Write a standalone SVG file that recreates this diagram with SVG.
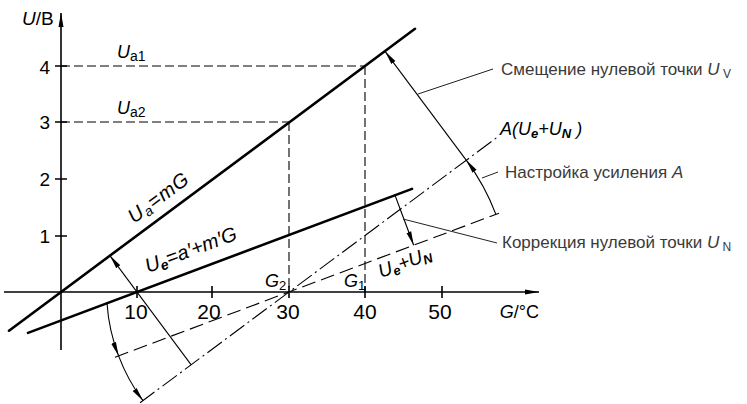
<svg xmlns="http://www.w3.org/2000/svg" width="747" height="404" viewBox="0 0 747 404">
<style>
.ax{stroke:#000;stroke-width:1.6;fill:none}
.thick{stroke:#000;stroke-width:2.6;fill:none;stroke-linecap:round}
.thin{stroke:#000;stroke-width:1.1;fill:none}
.lead{stroke:#222;stroke-width:1;fill:none}
.dash{stroke:#000;stroke-width:1.1;fill:none;stroke-dasharray:9 4}
.dash2{stroke:#000;stroke-width:1.1;fill:none;stroke-dasharray:14 6}
.dd{stroke:#000;stroke-width:1.1;fill:none;stroke-dasharray:18 4 2 4}
.t{font-family:"Liberation Sans",Arial,sans-serif;fill:#000}
.yn{font-size:19px;text-anchor:end}
.xn{font-size:21px;text-anchor:middle}
.v{font-style:italic}
.lbl{font-family:"Liberation Sans",Arial,sans-serif;font-size:17px;fill:#3a3a3a}
</style>
<defs>
<marker id="ah" viewBox="0 0 14 7" refX="14" refY="3.5" markerWidth="14" markerHeight="7" markerUnits="userSpaceOnUse" orient="auto"><path d="M0,1 L14,3.5 L0,6 Z" fill="#000"/></marker>
</defs>
<g id="axes">
<line class="ax" x1="61" y1="350" x2="61" y2="13" marker-end="url(#ah)"/>
<line class="ax" x1="4" y1="292" x2="539" y2="292" marker-end="url(#ah)"/>
<path class="ax" d="M55,66H67M55,122H67M55,179H67M55,236H67M137,286V298M212,286V298M289,286V298M365,286V298M442,286V298"/>
<text class="t yn" x="50" y="74">4</text>
<text class="t yn" x="50" y="129">3</text>
<text class="t yn" x="50" y="186">2</text>
<text class="t yn" x="50" y="243">1</text>
<text class="t xn" x="136" y="319">10</text>
<text class="t xn" x="209" y="319">20</text>
<text class="t xn" x="288" y="319">30</text>
<text class="t xn" x="365" y="319">40</text>
<text class="t xn" x="440" y="319">50</text>
<text class="t" x="22" y="25" font-size="19"><tspan class="v">U</tspan>/B</text>
<text class="t" x="539" y="318" font-size="18" text-anchor="end"><tspan class="v">G</tspan>/°C</text>
</g>
<g id="guides">
<path class="dash" d="M61,66H365M61,122H289M289,122V292M365,66V292"/>
<text class="t v" x="117" y="58" font-size="18">U<tspan font-size="14" font-style="normal" dy="3">a1</tspan></text>
<text class="t v" x="117" y="114" font-size="18">U<tspan font-size="14" font-style="normal" dy="3">a2</tspan></text>
</g>
<g id="lines">
<line class="thick" x1="9" y1="330.7" x2="415" y2="28.8"/>
<line class="thick" x1="28" y1="332.9" x2="412" y2="188.9"/>
<line class="dash2" x1="115" y1="357.2" x2="499" y2="213.2"/>
<line class="dd" x1="140" y1="402.8" x2="497" y2="137.4"/>
</g>
<g id="connectors">
<line class="thin" x1="191.2" y1="364.8" x2="109.9" y2="255.6" marker-end="url(#ah)"/>
<line class="thin" x1="466.2" y1="160.1" x2="385" y2="51.3" marker-end="url(#ah)"/>
<line class="thin" x1="395" y1="195.3" x2="413.7" y2="245.2" marker-end="url(#ah)"/>
<path class="thin" d="M107,303 A182,182 0 0 0 118.6,355.9" marker-end="url(#ah)"/>
<path class="thin" d="M118.6,355.9 A182,182 0 0 0 143,400.7" marker-end="url(#ah)"/>
<path class="thin" d="M495.9,214.4 A221,221 0 0 0 466.2,160.1" marker-end="url(#ah)"/>
<line class="lead" x1="418" y1="94" x2="493" y2="69"/>
<line class="lead" x1="482" y1="178" x2="498" y2="172"/>
<line class="lead" x1="403" y1="219" x2="497" y2="243"/>
</g>
<g id="formula-labels">
<text class="t v" transform="translate(134,224) rotate(-36.6)" font-size="20" letter-spacing="1">U<tspan font-size="14" dy="3">a</tspan><tspan dy="-3">=mG</tspan></text>
<text class="t v" transform="translate(148,273) rotate(-20.6)" font-size="20">U<tspan font-size="14" dy="3" font-weight="bold">e</tspan><tspan dy="-3">=a′+m′G</tspan></text>
<text class="t v" transform="translate(381,278) rotate(-20.6)" font-size="19">U<tspan font-size="13" dy="3" font-weight="bold">e</tspan><tspan dy="-3">+U</tspan><tspan font-size="13" dy="3" font-weight="bold">N</tspan></text>
<text class="t v" x="500" y="135" font-size="18">A(U<tspan font-size="13" dy="3" font-weight="bold">e</tspan><tspan dy="-3">+U</tspan><tspan font-size="13" dy="3" font-weight="bold">N</tspan><tspan dy="-3"> )</tspan></text>
<text class="t v" x="265" y="287" font-size="18">G<tspan font-size="13" font-style="normal" dy="3">2</tspan></text>
<text class="t v" x="344" y="287" font-size="18">G<tspan font-size="13" font-style="normal" dy="3">1</tspan></text>
</g>
<g id="callouts">
<text class="lbl" x="501" y="75">Смещение нулевой точки <tspan class="v">U</tspan><tspan font-size="12" dy="3"> V</tspan></text>
<text class="lbl" x="505" y="178">Настройка усиления <tspan class="v">A</tspan></text>
<text class="lbl" x="502" y="248">Коррекция нулевой точки <tspan class="v">U</tspan><tspan font-size="12" dy="3"> N</tspan></text>
</g>
</svg>
